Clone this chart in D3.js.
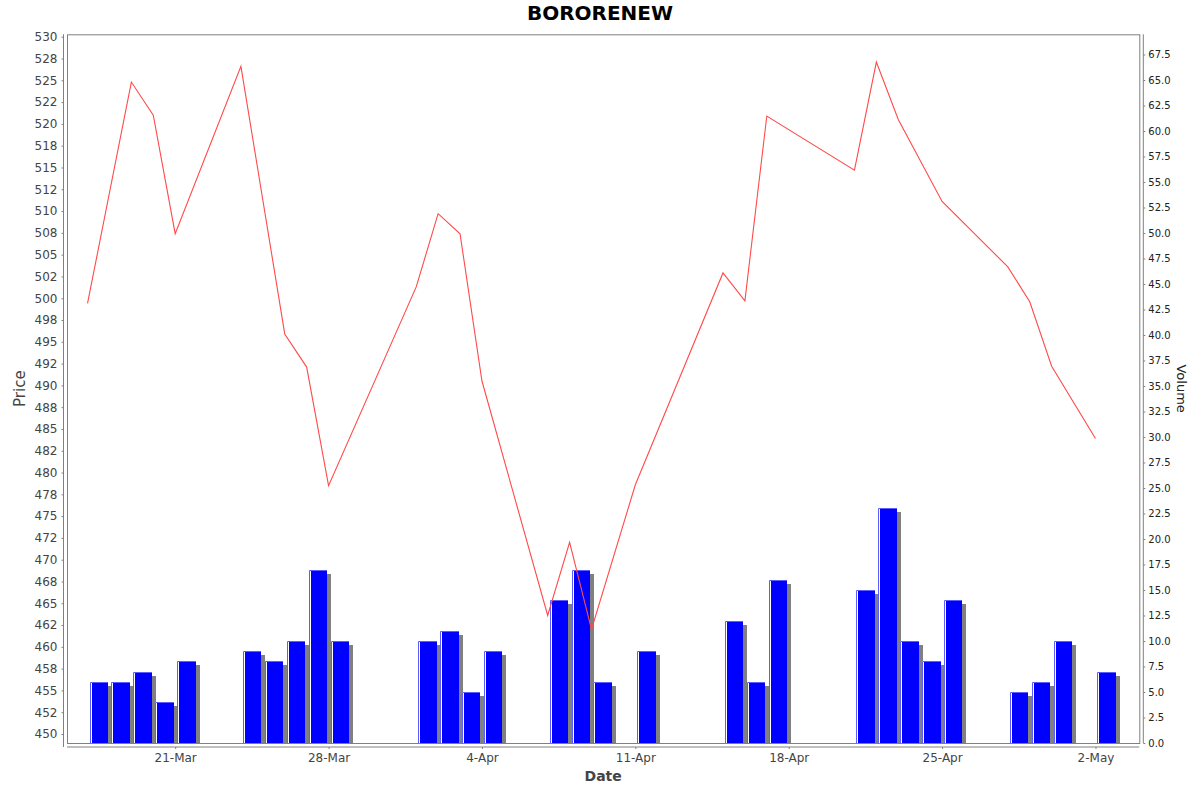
<!DOCTYPE html>
<html>
<head>
<meta charset="utf-8">
<script src="https://cdn.jsdelivr.net/npm/d3@7"></script>
<style>
  body { margin: 0; background: #fff; }
  text { font-family: "DejaVu Sans", sans-serif; }
</style>
</head>
<body>
<svg id="chart" width="1200" height="792"></svg>
<script>
// price series (closing price)
const priceDates = [
    '2025-03-17', '2025-03-19', '2025-03-20', '2025-03-21', '2025-03-24', '2025-03-26',
    '2025-03-27', '2025-03-28', '2025-04-01', '2025-04-02', '2025-04-03', '2025-04-04',
    '2025-04-07', '2025-04-08', '2025-04-09', '2025-04-11', '2025-04-15', '2025-04-16',
    '2025-04-17', '2025-04-21', '2025-04-22', '2025-04-23', '2025-04-25', '2025-04-28',
    '2025-04-29', '2025-04-30', '2025-05-02'
];
const priceValues = [
    499.4, 524.8, 521.0, 507.4, 526.6, 495.9,
    492.1, 478.5, 501.3, 509.7, 507.4, 490.5,
    463.6, 472.0, 462.0, 478.6, 502.9, 499.7,
    520.9, 514.7, 527.1, 520.5, 511.1, 503.6,
    499.6, 492.2, 483.9
];

// volume series
const volumeDates = [
    '2025-03-17', '2025-03-18', '2025-03-19', '2025-03-20', '2025-03-21',
    '2025-03-24', '2025-03-25', '2025-03-26', '2025-03-27', '2025-03-28',
    '2025-04-01', '2025-04-02', '2025-04-03', '2025-04-04',
    '2025-04-07', '2025-04-08', '2025-04-09', '2025-04-11',
    '2025-04-15', '2025-04-16', '2025-04-17',
    '2025-04-21', '2025-04-22', '2025-04-23', '2025-04-24', '2025-04-25',
    '2025-04-28', '2025-04-29', '2025-04-30', '2025-05-02'
];
const volumeValues = [
    6, 6, 7, 4, 8,
    9, 8, 10, 17, 10,
    10, 11, 5, 9,
    14, 17, 6, 9,
    12, 6, 16,
    15, 23, 10, 8, 14,
    5, 6, 10, 7
];

const dateTicks = ['2025-03-21', '2025-03-28', '2025-04-04', '2025-04-11', '2025-04-18', '2025-04-25', '2025-05-02'];

const title = 'BORORENEW';

const parse = d3.timeParse('%Y-%m-%d');

const plotLeft = 67, plotRight = 1139.3, plotTop = 34.3, plotBottom = 743;

const svg = d3.select('#chart');

const x = d3.scaleTime()
    .domain([new Date(2025, 2, 16, 1, 30), new Date(2025, 4, 4)])
    .range([plotLeft, plotRight]);

const yPrice = d3.scaleLinear()
    .domain([448.97, 530.28])
    .range([plotBottom, plotTop]);

const yVol = d3.scaleLinear()
    .domain([0, 69.48])
    .range([plotBottom, plotTop]);

// java style half-even rounding for the price labels
function halfEven(v) {
    const f = Math.floor(v);
    if (Math.abs(v - f - 0.5) < 1e-9) return f % 2 === 0 ? f : f + 1;
    return Math.round(v);
}

// title
svg.append('text')
    .attr('x', 600)
    .attr('y', 20)
    .attr('text-anchor', 'middle')
    .style('font-size', '20px')
    .style('font-weight', 'bold')
    .style('fill', '#000')
    .text(title);

// plot frame
svg.append('rect')
    .attr('x', plotLeft + 0.5)
    .attr('y', plotTop + 0.5)
    .attr('width', plotRight - plotLeft)
    .attr('height', plotBottom - plotTop)
    .style('fill', '#fff')
    .style('stroke', '#808080');

// volume bars
const vol = volumeDates.map((d, i) => ({ date: parse(d), v: volumeValues[i] }));
const bars = svg.append('g');

vol.forEach(d => {
    const day = x(d3.timeDay.offset(d.date, 1)) - x(d.date);
    const x0 = Math.round(x(d.date) + day * 0.09);
    const x1 = Math.round(x(d.date) + day * 0.93);
    const yt = Math.round(yVol(d.v));

    // shadow
    bars.append('rect')
        .attr('x', x0 + 4)
        .attr('y', yt + 4)
        .attr('width', x1 - x0)
        .attr('height', Math.max(0, plotBottom - yt - 4))
        .style('fill', '#808080');

    bars.append('rect')
        .attr('x', x0)
        .attr('y', yt)
        .attr('width', x1 - x0)
        .attr('height', plotBottom - yt)
        .style('fill', '#fff');

    bars.append('rect')
        .attr('x', x0 + 2)
        .attr('y', yt)
        .attr('width', x1 - x0 - 2)
        .attr('height', plotBottom - yt)
        .style('fill', '#0000ff');

    // light edges
    bars.append('path')
        .attr('d', `M${x0 + 0.5},${plotBottom}V${yt + 0.5}H${x1}`)
        .style('fill', 'none')
        .style('stroke', '#5c5cff')
        .style('stroke-width', 1);
});

// price line
const price = priceDates.map((d, i) => ({ date: parse(d), v: priceValues[i] }));
svg.append('path')
    .datum(price)
    .attr('d', d3.line().x(d => x(d.date)).y(d => yPrice(d.v)))
    .style('fill', 'none')
    .style('stroke', '#ff4a4a')
    .style('stroke-width', 1.1);

// left axis
const leftAxis = svg.append('g')
    .attr('transform', `translate(63.5,0)`)
    .call(d3.axisLeft(yPrice)
        .tickValues(d3.range(450, 530.01, 2.5))
        .tickSize(2)
        .tickPadding(4)
        .tickFormat(halfEven));

leftAxis.select('.domain').attr('d', `M0,${plotTop}V${plotBottom + 4}`);

leftAxis.selectAll('text')
    .style('font-size', '12px')
    .style('fill', '#444');

// right axis
const rightAxis = svg.append('g')
    .attr('transform', `translate(${plotRight + 4},0)`)
    .call(d3.axisRight(yVol)
        .tickValues(d3.range(0, 67.51, 2.5))
        .tickSize(2)
        .tickPadding(3)
        .tickFormat(d3.format('.1f')));

rightAxis.select('.domain').attr('d', `M0,${plotTop}V${plotBottom}`);

rightAxis.selectAll('text')
    .style('font-size', '10px')
    .style('fill', '#222');

// bottom axis
const bottomAxis = svg.append('g')
    .attr('transform', `translate(0,${plotBottom + 4})`)
    .call(d3.axisBottom(x)
        .tickValues(dateTicks.map(parse))
        .tickSize(2)
        .tickPadding(4)
        .tickFormat(d3.timeFormat('%-d-%b')));

bottomAxis.select('.domain').attr('d', `M${plotLeft},0H${plotRight}`);

bottomAxis.selectAll('text')
    .style('font-size', '12px')
    .style('fill', '#444');

svg.selectAll('.domain, .tick line').style('stroke', '#808080');

// axis titles
svg.append('text')
    .attr('transform', `translate(25,${(plotTop + plotBottom) / 2}) rotate(-90)`)
    .attr('text-anchor', 'middle')
    .style('font-size', '15px')
    .style('fill', '#444')
    .text('Price');

svg.append('text')
    .attr('transform', `translate(1177,${(plotTop + plotBottom) / 2}) rotate(90)`)
    .attr('text-anchor', 'middle')
    .style('font-size', '13px')
    .style('fill', '#222')
    .text('Volume');

svg.append('text')
    .attr('x', (plotLeft + plotRight) / 2)
    .attr('y', 781)
    .attr('text-anchor', 'middle')
    .style('font-size', '14px')
    .style('font-weight', '600')
    .style('fill', '#444')
    .text('Date');
</script>
</body>
</html>
